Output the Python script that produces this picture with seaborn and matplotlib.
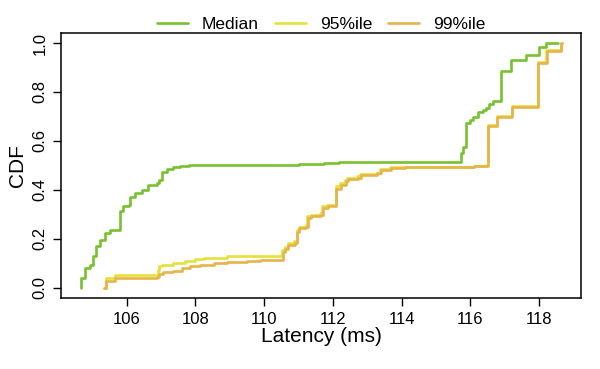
import matplotlib

matplotlib.use("Agg")

import matplotlib.pyplot as plt
import pandas as pd
import seaborn as sns

from matplotlib.lines import Line2D

series = ["Median", "95%ile", "99%ile"]
colors = ["#78C12F", "#E5E13A", "#E6B44A"]
x_ticks = [106, 108, 110, 112, 114, 116, 118]
y_ticks = [0.0, 0.2, 0.4, 0.6, 0.8, 1.0]

# step starts (latency in ms, cumulative fraction)
median_ms = [
    104.66, 104.68, 104.78, 104.93, 105.03, 105.10, 105.22, 105.37, 105.51,
    105.80, 105.90, 106.05, 106.10, 106.24, 106.44, 106.63, 106.87, 106.95,
    107.02, 107.17, 107.36, 107.55, 107.80, 111.01, 111.74, 112.17, 115.74,
    115.79, 115.89, 115.98, 116.08, 116.23, 116.37, 116.47, 116.56, 116.66,
    116.90, 117.19, 117.63, 117.99, 118.20, 118.57,
]
median_cdf = [
    0.0, 0.04, 0.08, 0.095, 0.13, 0.17, 0.197, 0.224, 0.238,
    0.312, 0.333, 0.34, 0.373, 0.387, 0.40, 0.42, 0.428, 0.441,
    0.475, 0.485, 0.493, 0.498, 0.502, 0.505, 0.509, 0.513, 0.55,
    0.577, 0.672, 0.685, 0.696, 0.72, 0.726, 0.733, 0.75, 0.764,
    0.886, 0.93, 0.95, 0.984, 1.0, 1.0,
]

p95_ms = [
    105.35, 105.38, 105.66, 106.90, 106.95, 107.02, 107.36, 107.70, 107.99,
    108.24, 108.92, 110.48, 110.53, 110.60, 110.68, 110.87, 110.95, 111.00,
    111.21, 111.25, 111.35, 111.64, 111.69, 111.83, 112.08, 112.22, 112.36,
    112.41, 112.70, 112.80, 113.28, 113.38, 113.67, 114.10, 116.10, 116.47,
    116.52, 116.78, 117.22, 117.96, 118.22, 118.64, 118.66,
]
p95_cdf = [
    0.0, 0.04, 0.054, 0.075, 0.09, 0.095, 0.10, 0.11, 0.118,
    0.122, 0.129, 0.135, 0.156, 0.165, 0.183, 0.19, 0.238, 0.25,
    0.258, 0.292, 0.299, 0.305, 0.333, 0.34, 0.414, 0.428, 0.441,
    0.448, 0.455, 0.466, 0.471, 0.485, 0.493, 0.495, 0.497, 0.50,
    0.665, 0.702, 0.742, 0.923, 0.973, 1.0, 1.0,
]

p99_ms = [
    105.35, 105.38, 105.66, 106.87, 106.95, 107.05, 107.36, 107.60, 107.85,
    108.14, 108.53, 108.92, 109.50, 109.89, 110.48, 110.55, 110.62, 110.70,
    110.89, 110.97, 111.02, 111.23, 111.27, 111.37, 111.66, 111.71, 111.85,
    112.10, 112.24, 112.38, 112.43, 112.72, 112.82, 113.30, 113.40, 113.69,
    114.10, 116.10, 116.47, 116.53, 116.79, 117.23, 117.97, 118.23, 118.65,
    118.66,
]
p99_cdf = [
    0.0, 0.027, 0.04, 0.045, 0.055, 0.064, 0.068, 0.081, 0.091,
    0.095, 0.102, 0.105, 0.109, 0.113, 0.115, 0.145, 0.16, 0.176,
    0.183, 0.228, 0.243, 0.25, 0.285, 0.292, 0.298, 0.326, 0.333,
    0.405, 0.422, 0.436, 0.443, 0.45, 0.462, 0.468, 0.482, 0.491,
    0.494, 0.496, 0.498, 0.662, 0.698, 0.738, 0.918, 0.968, 1.0,
    1.0,
]


def build_frame() -> pd.DataFrame:
    parts = []
    for name, ms, cdf in zip(
        series, [median_ms, p95_ms, p99_ms], [median_cdf, p95_cdf, p99_cdf],
    ):
        parts.append(pd.DataFrame({"series": name, "latency": ms, "cdf": cdf}))
    return pd.concat(parts, ignore_index=True)


def main() -> None:
    df = build_frame()

    sns.set_theme(style="ticks")
    plt.rcParams["font.family"] = ["Liberation Sans", "DejaVu Sans"]
    plt.rcParams["text.color"] = "black"
    plt.rcParams["axes.labelcolor"] = "black"
    plt.rcParams["xtick.color"] = "black"
    plt.rcParams["ytick.color"] = "black"

    fig = plt.figure(figsize=(6, 3.69), dpi=100)
    ax = fig.add_axes([0.102, 0.192, 0.866, 0.718])

    sns.lineplot(
        data=df, x="latency", y="cdf", hue="series", hue_order=series,
        palette=colors, estimator=None, sort=False, drawstyle="steps-post",
        linewidth=1.9, legend=False, ax=ax,
    )

    ax.set_xlim(104.09, 119.22)
    ax.set_ylim(-0.042, 1.04)
    ax.set_xticks(x_ticks)
    ax.set_xticklabels([str(t) for t in x_ticks])
    ax.set_yticks(y_ticks)
    ax.set_yticklabels([f"{t:.1f}" for t in y_ticks], rotation=90, va="center")
    ax.tick_params(
        direction="out", length=6, width=1, color="black",
        labelcolor="black", labelsize=12, pad=4, top=False, right=False,
    )
    for spine in ax.spines.values():
        spine.set_visible(True)
        spine.set_color("black")
        spine.set_linewidth(1.1)

    ax.set_xlabel("Latency (ms)", fontsize=15, labelpad=0, color="black")
    ax.set_ylabel("CDF", fontsize=15, labelpad=4, color="black")

    handles = [Line2D([], [], color=c, linewidth=1.9) for c in colors]
    ax.legend(
        handles, series, ncol=3, loc="lower center",
        bbox_to_anchor=(0.5, 0.99), frameon=False, fontsize=12.5,
        handlelength=1.8, handletextpad=0.8, columnspacing=0.9,
        borderaxespad=0, borderpad=0.2, labelcolor="black",
    )

    fig.savefig("out.png", dpi=100)


if __name__ == "__main__":
    main()
